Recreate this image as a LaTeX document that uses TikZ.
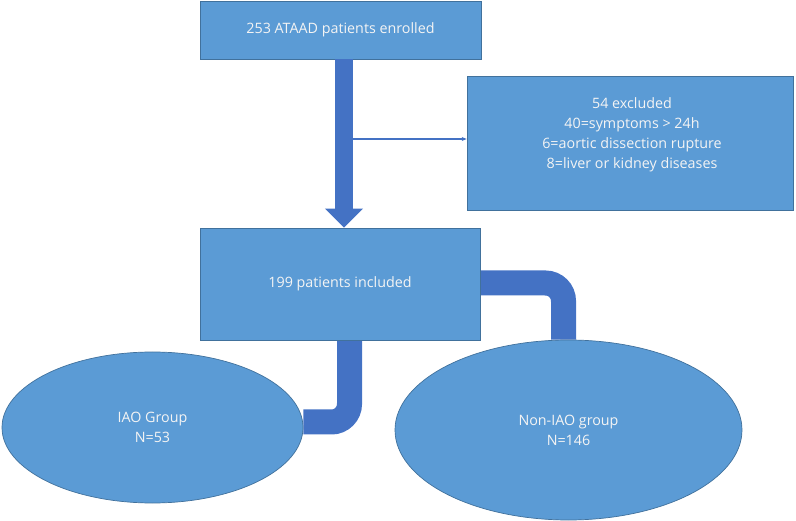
\documentclass[tikz,border=0pt]{standalone}
\usepackage{fontspec}
\setmainfont{Open Sans}
\usetikzlibrary{shapes.geometric,arrows.meta}
\pgfdeclarelayer{background}
\pgfsetlayers{background,main}
\definecolor{boxfill}{HTML}{5B9BD5}
\definecolor{boxline}{HTML}{41719C}
\definecolor{conn}{HTML}{4472C4}
\definecolor{txt}{HTML}{F4F4F4}
\tikzset{
  x=1pt, y=-1pt,
  box/.style={draw=boxline, line width=0.7pt, fill=boxfill, rectangle, inner sep=0pt},
  oval/.style={draw=boxline, line width=0.7pt, fill=boxfill, ellipse, inner sep=0pt, text=txt, align=center, font=\fontsize{14.3}{20}\selectfont},
  lbl/.style={text=txt, align=center, font=\fontsize{14.3}{20}\selectfont},
  elbow/.style={draw=conn, line width=25pt, rounded corners=18pt},
}
\begin{document}
\begin{tikzpicture}
\useasboundingbox (0,0) rectangle (796,521);
\node[box, minimum width=281pt, minimum height=58pt, lbl] (top) at (340.5,30) {253 ATAAD patients enrolled};
\node[box, minimum width=326pt, minimum height=134pt] (excl) at (630,143) {};
\node[lbl] (excltext) at (632,135) {54 excluded\\40=symptoms > 24h\\6=aortic dissection rupture\\8=liver or kidney diseases};
\node[box, minimum width=280pt, minimum height=112pt, lbl] (mid) at (340,284) {199 patients included};
\node[oval, minimum width=301pt, minimum height=151pt] (iao) at (152.5,427.5) {IAO Group\\N=53};
\node[oval, minimum width=347pt, minimum height=180pt] (non) at (568.5,430) {Non-IAO group\\N=146};
\coordinate (sx) at (344,0);
\coordinate (branch) at (353,139);
\coordinate (lc) at (349.5,422);
\coordinate (rc) at (563.5,283);
\begin{pgfonlayer}{background}
\draw[elbow] (mid.east |- rc) -- (rc) -- (rc |- non.north);
\draw[elbow] (lc |- mid.south) -- (lc) -- (iao.east |- lc);
\end{pgfonlayer}
\draw[conn, line width=18pt, -{Triangle[width=37pt,length=19pt]}] (top.south -| sx) -- (mid.north -| sx);
\draw[conn, line width=1.4pt, -{Stealth[length=5pt,width=4pt]}] (branch) -- (excl.west |- branch);
\end{tikzpicture}
\end{document}
